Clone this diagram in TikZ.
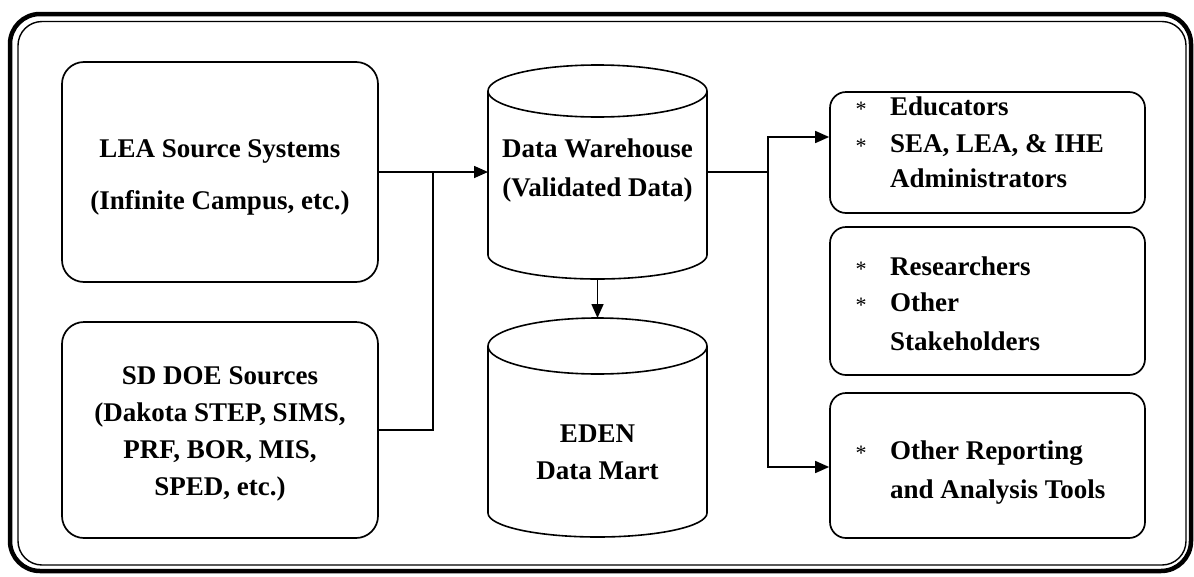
\documentclass[tikz,border=0pt]{standalone}
\usepackage{fontspec}
\setmainfont{Liberation Serif}
\usetikzlibrary{arrows.meta}
\begin{document}
\begin{tikzpicture}[x=1pt,y=-1pt,
  lbox/.style={draw, line width=1.7pt, rounded corners=22pt, inner sep=0pt},
  rbox/.style={draw, line width=1.7pt, rounded corners=16pt, inner sep=0pt},
  cylnode/.style={inner sep=0pt, outer sep=0pt, minimum width=219pt},
  txt/.style={font=\bfseries\fontsize{27}{27}\selectfont, inner sep=0pt, text height=18pt, text depth=0pt},
  star/.style={font=\fontsize{22}{22}\selectfont, inner sep=0pt},
  conn/.style={line width=1.6pt},
  arr/.style={conn, -{Triangle[length=14pt,width=12pt]}},
  cyl/.style={line width=1.6pt}
]
\useasboundingbox (0,0) rectangle (1194,576);
% frame
\draw[line width=4.5pt, rounded corners=30pt] (10,14) rectangle (1191,571);
\draw[line width=1.4pt, rounded corners=24pt] (18,21.5) rectangle (1186,565);

% left boxes
\node[lbox, minimum width=316pt, minimum height=220pt] (lea) at (220,172) {};
\node[lbox, minimum width=316pt, minimum height=216pt] (sd) at (220,430) {};

% right boxes
\node[rbox, minimum width=315pt, minimum height=121pt] (r1) at (987.5,152.5) {};
\node[rbox, minimum width=315pt, minimum height=148pt] (r2) at (987.5,301) {};
\node[rbox, minimum width=315pt, minimum height=145pt] (r3) at (987.5,465.5) {};

% cylinders
\node[cylnode, minimum height=214pt] (dw) at (597.5,172) {};
\draw[cyl] (597.5,91) ellipse [x radius=109.5pt, y radius=26pt];
\draw[cyl] (488,91) -- (488,255);
\draw[cyl] (707,91) -- (707,255);
\draw[cyl] (707,255) arc[start angle=0, end angle=-180, x radius=109.5pt, y radius=24pt];

\node[cylnode, minimum height=219pt] (eden) at (597.5,427.5) {};
\draw[cyl] (597.5,346) ellipse [x radius=109.5pt, y radius=28pt];
\draw[cyl] (488,346) -- (488,513);
\draw[cyl] (707,346) -- (707,513);
\draw[cyl] (707,513) arc[start angle=0, end angle=-180, x radius=109.5pt, y radius=24pt];

% connectors
\coordinate (jl) at (433,172);
\draw[conn] (lea.east) -- (jl);
\draw[conn] (sd.east) -| (jl);
\draw[arr] (jl) -- (dw.west);
\draw[arr] (dw.south) -- (eden.north);
\coordinate (jr) at (768,172);
\coordinate (t1) at (830,137);
\coordinate (t3) at (830,467);
\draw[conn] (dw.east) -- (jr);
\draw[arr] (jr) |- (r1.west |- t1);
\draw[arr] (jr) |- (r3.west |- t3);

% texts
\node[txt] (lea1) at (220,148) {LEA Source Systems};
\node[txt] (lea2) at (220,200) {(Infinite Campus, etc.)};
\node[txt] (sd1) at (220,375) {SD DOE Sources};
\node[txt] (sd2) at (220,412) {(Dakota STEP, SIMS,};
\node[txt] (sd3) at (220,449) {PRF, BOR, MIS,};
\node[txt] (sd4) at (220,486) {SPED, etc.)};
\node[txt] (dw1) at (597.5,148) {Data Warehouse};
\node[txt] (dw2) at (597.5,187) {(Validated Data)};
\node[txt] (ed1) at (597.5,433) {EDEN};
\node[txt] (ed2) at (597.5,470) {Data Mart};

\node[star] (s1) at (861,109) {*};
\node[txt, anchor=west] (a1) at (890,106) {Educators};
\node[star] (s2) at (861,146) {*};
\node[txt, anchor=west] (a2) at (890,143) {SEA, LEA, \& IHE};
\node[txt, anchor=west] (a3) at (890,178) {Administrators};

\node[star] (s3) at (861,269) {*};
\node[txt, anchor=west] (b1) at (890,266) {Researchers};
\node[star] (s4) at (861,305) {*};
\node[txt, anchor=west] (b2) at (890,302) {Other};
\node[txt, anchor=west] (b3) at (890,341) {Stakeholders};

\node[star] (s5) at (861,453) {*};
\node[txt, anchor=west] (c1) at (890,450) {Other Reporting};
\node[txt, anchor=west] (c2) at (890,489) {and Analysis Tools};
\end{tikzpicture}
\end{document}
